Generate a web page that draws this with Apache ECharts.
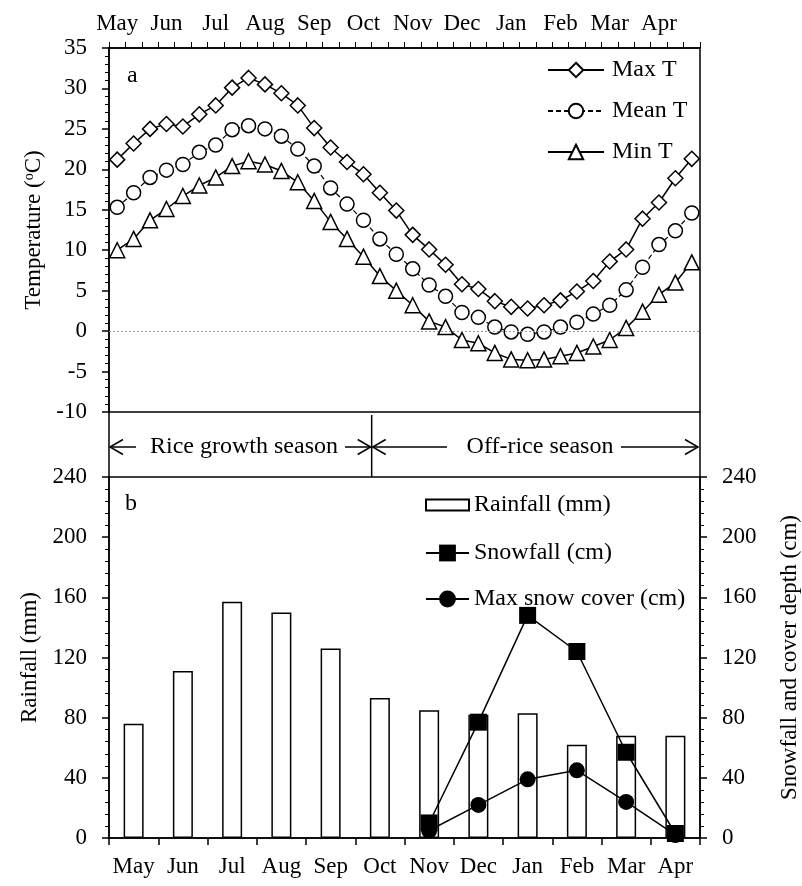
<!DOCTYPE html>
<html>
<head>
<meta charset="utf-8">
<script src="https://cdn.jsdelivr.net/npm/echarts@6/dist/echarts.min.js"></script>
<style>
  html, body { margin: 0; padding: 0; background: #fff; }
  #chart { width: 802px; height: 886px; }
</style>
</head>
<body>
<div id="chart"></div>
<script>
// Months of the rice year, May to April
const months = ['May', 'Jun', 'Jul', 'Aug', 'Sep', 'Oct', 'Nov', 'Dec', 'Jan', 'Feb', 'Mar', 'Apr'];
// Ten-day periods (three per month)
const dekads = months.flatMap(m => [m + '-1', m + '-2', m + '-3']);

// Air temperature per ten-day period (°C)
const maxT  = [21.2, 23.2, 25.0, 25.6, 25.3, 26.8, 27.9, 30.1, 31.3, 30.5, 29.4, 27.9,
               25.1, 22.7, 20.9, 19.4, 17.1, 14.9, 11.9, 10.1, 8.2, 5.8, 5.2, 3.7,
               3.0, 2.8, 3.2, 3.8, 4.9, 6.2, 8.6, 10.1, 13.9, 15.9, 18.9, 21.3];
const meanT = [15.3, 17.1, 19.0, 19.9, 20.6, 22.1, 23.0, 24.9, 25.4, 25.0, 24.1, 22.5,
               20.4, 17.7, 15.7, 13.7, 11.4, 9.5, 7.7, 5.7, 4.3, 2.3, 1.7, 0.5,
               -0.1, -0.4, -0.1, 0.5, 1.1, 2.1, 3.2, 5.1, 7.9, 10.7, 12.4, 14.6];
const minT  = [10.0, 11.4, 13.7, 15.1, 16.7, 18.0, 19.0, 20.4, 21.0, 20.6, 19.8, 18.4,
               16.1, 13.5, 11.4, 9.2, 6.8, 5.0, 3.2, 1.2, 0.5, -1.1, -1.5, -2.7,
               -3.5, -3.6, -3.5, -3.1, -2.7, -1.9, -1.1, 0.4, 2.4, 4.5, 6.0, 8.5];

// Monthly precipitation
const rainfall  = [76, 111, 157, 150, 126, 93, 85, 82, 83, 62, 68, 68];        // mm
const snowfall  = [null, null, null, null, null, null, 10, 77, 148, 124, 57, 3]; // cm
const snowCover = [null, null, null, null, null, null, 5, 22, 39, 45, 24, 2];    // cm

// Rice growth season covers the first 16 ten-day periods
const riceSeasonDekads = 16;

const FONT = "'Liberation Serif', 'Times New Roman', serif";
const BLACK = '#000';

// Panel geometry
const G = { left: 109, width: 591 };
const topPanel = { top: 48, height: 364 };
const botPanel = { top: 477, height: 361 };

const txt = (size) => ({ fontFamily: FONT, fontSize: size, color: BLACK });

function yAxisBase(extra) {
  return Object.assign({
    type: 'value',
    axisLine: { show: true, lineStyle: { color: BLACK, width: 1.5 } },
    axisTick: { show: true, length: 7, inside: false, lineStyle: { color: BLACK, width: 1.5 } },
    minorTick: { show: true, splitNumber: 5, length: 4, lineStyle: { color: BLACK, width: 1 } },
    splitLine: { show: false },
    axisLabel: Object.assign({ margin: 22 }, txt(23)),
    nameLocation: 'middle',
    nameRotate: 90,
    nameTextStyle: txt(23)
  }, extra);
}

const hollow = { color: '#fff', borderColor: BLACK, borderWidth: 1.5 };

const chart = echarts.init(document.getElementById('chart'), null, { renderer: 'canvas' });

// Season band between the two panels
const bandY = 447;
const xLeft = G.left, xRight = G.left + G.width;
const xSplit = G.left + riceSeasonDekads * G.width / dekads.length;
const head = (x, dir) => ({
  type: 'polyline',
  shape: { points: [[x + dir * 13, bandY - 7.5], [x, bandY], [x + dir * 13, bandY + 7.5]] },
  style: { stroke: BLACK, lineWidth: 1.5, fill: null }
});
const seg = (x1, y1, x2, y2) => ({
  type: 'line', shape: { x1, y1, x2, y2 }, style: { stroke: BLACK, lineWidth: 1.5 }
});

const gridBase = {
  show: true, borderColor: BLACK, borderWidth: 1.5, backgroundColor: 'transparent',
  containLabel: false, outerBoundsMode: 'none'
};

const option = {
  animation: false,
  backgroundColor: '#fff',
  grid: [
    Object.assign({}, gridBase, G, topPanel),
    Object.assign({}, gridBase, G, botPanel)
  ],
  xAxis: [
    {
      gridIndex: 0, type: 'category', position: 'top', data: dekads, boundaryGap: true,
      axisLine: { onZero: false, lineStyle: { color: BLACK, width: 1.5 } },
      axisTick: { show: true, interval: 0, length: 6, lineStyle: { color: BLACK, width: 1 } },
      axisLabel: Object.assign({ interval: 2, margin: 13, formatter: v => v.split('-')[0] }, txt(23))
    },
    {
      gridIndex: 1, type: 'category', position: 'bottom', data: months, boundaryGap: true,
      axisLine: { onZero: false, lineStyle: { color: BLACK, width: 1.5 } },
      axisTick: { show: true, interval: 0, length: 7, lineStyle: { color: BLACK, width: 1.5 } },
      axisLabel: Object.assign({ interval: 0, margin: 17 }, txt(23))
    }
  ],
  yAxis: [
    yAxisBase({
      gridIndex: 0, min: -10, max: 35, interval: 5,
      name: 'Temperature ({sup|o}C)', nameGap: 62,
      nameTextStyle: Object.assign(txt(23), {
        rich: { sup: { fontFamily: FONT, fontSize: 14, color: BLACK, verticalAlign: 'top', padding: [0, 0, 8, 0] } }
      })
    }),
    yAxisBase({
      gridIndex: 1, min: 0, max: 240, interval: 40, position: 'left',
      name: 'Rainfall (mm)', nameGap: 62
    }),
    yAxisBase({
      gridIndex: 1, min: 0, max: 240, interval: 40, position: 'right',
      name: 'Snowfall and cover depth (cm)', nameGap: 78
    })
  ],
  legend: [
    {
      data: ['Max T', 'Mean T', 'Min T'], orient: 'vertical', left: 542, top: 53,
      itemWidth: 56, itemHeight: 18, itemGap: 17, selectedMode: false,
      textStyle: Object.assign({ padding: [0, 0, 0, 3] }, txt(24))
    },
    {
      data: [{ name: 'Rainfall (mm)', icon: 'rect' }], orient: 'vertical', left: 420, top: 488,
      itemWidth: 43, itemHeight: 11, selectedMode: false,
      textStyle: txt(24)
    },
    {
      data: ['Snowfall (cm)', 'Max snow cover (cm)'], orient: 'vertical', left: 420, top: 536,
      itemWidth: 43, itemHeight: 21, itemGap: 22, selectedMode: false,
      textStyle: txt(24)
    }
  ],
  series: [
    {
      name: 'Max T', type: 'line', xAxisIndex: 0, yAxisIndex: 0, data: maxT,
      symbol: 'diamond', symbolSize: 15, showAllSymbol: true, itemStyle: hollow,
      lineStyle: { color: BLACK, width: 1.5 }, z: 4,
      markLine: {
        silent: true, symbol: 'none', label: { show: false },
        lineStyle: { color: '#999', type: [2, 2], width: 1 },
        data: [{ yAxis: 0 }]
      }
    },
    {
      name: 'Mean T', type: 'line', xAxisIndex: 0, yAxisIndex: 0, data: meanT,
      symbol: 'circle', symbolSize: 14, showAllSymbol: true, itemStyle: hollow,
      lineStyle: { color: BLACK, width: 1.2, type: [5, 3] }, z: 3
    },
    {
      name: 'Min T', type: 'line', xAxisIndex: 0, yAxisIndex: 0, data: minT,
      symbol: 'triangle', symbolSize: 15, showAllSymbol: true, itemStyle: hollow,
      lineStyle: { color: BLACK, width: 1.5 }, z: 3
    },
    {
      name: 'Rainfall (mm)', type: 'bar', xAxisIndex: 1, yAxisIndex: 1, data: rainfall,
      barWidth: 20, itemStyle: hollow, z: 2
    },
    {
      name: 'Snowfall (cm)', type: 'line', xAxisIndex: 1, yAxisIndex: 2, data: snowfall,
      symbol: 'rect', symbolSize: 17, itemStyle: { color: BLACK },
      lineStyle: { color: BLACK, width: 1.5 }, z: 4
    },
    {
      name: 'Max snow cover (cm)', type: 'line', xAxisIndex: 1, yAxisIndex: 2, data: snowCover,
      symbol: 'circle', symbolSize: 16, itemStyle: { color: BLACK },
      lineStyle: { color: BLACK, width: 1.5 }, z: 5
    }
  ],
  graphic: [
    // panel letters
    { type: 'text', left: 127, top: 64, style: { text: 'a', fill: BLACK, font: `24px ${FONT}` } },
    { type: 'text', left: 125, top: 492, style: { text: 'b', fill: BLACK, font: `24px ${FONT}` } },
    // season band frame
    seg(xLeft, topPanel.top + topPanel.height, xLeft, botPanel.top),
    seg(xRight, topPanel.top + topPanel.height, xRight, botPanel.top),
    seg(xSplit, topPanel.top + topPanel.height + 3, xSplit, botPanel.top),
    // rice growth season arrows
    seg(xLeft + 1, bandY, xLeft + 27, bandY), head(xLeft + 1, 1),
    seg(345, bandY, xSplit - 1, bandY), head(xSplit - 1, -1),
    { type: 'text', x: 244, y: bandY, style: { text: 'Rice growth season', fill: BLACK, font: `24px ${FONT}`, align: 'center', verticalAlign: 'middle' } },
    // off-rice season arrows
    seg(xSplit + 1, bandY, 447, bandY), head(xSplit + 1, 1),
    seg(621, bandY, xRight - 2, bandY), head(xRight - 2, -1),
    { type: 'text', x: 540, y: bandY, style: { text: 'Off-rice season', fill: BLACK, font: `24px ${FONT}`, align: 'center', verticalAlign: 'middle' } }
  ]
};

chart.setOption(option);
</script>
</body>
</html>
